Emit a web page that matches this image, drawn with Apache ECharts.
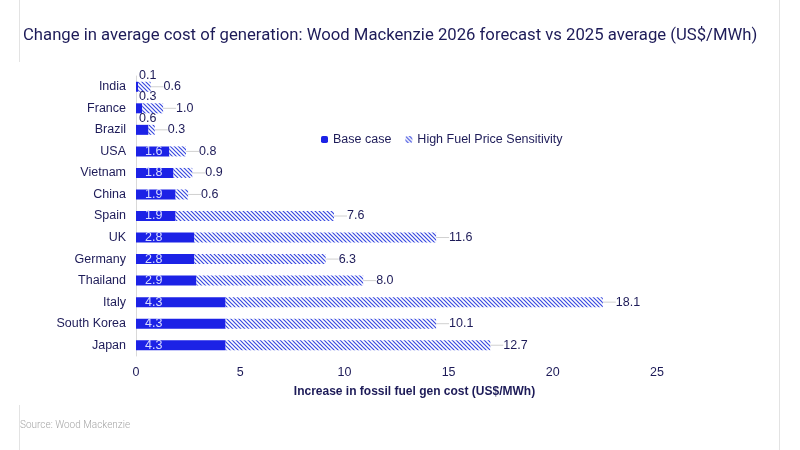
<!DOCTYPE html>
<html>
<head>
<meta charset="utf-8">
<script src="https://cdn.jsdelivr.net/npm/echarts@6/dist/echarts.min.js"></script>
<style>
  html, body { margin: 0; padding: 0; background: #fff; }
  #main { width: 800px; height: 450px; }
</style>
</head>
<body>
<div id="main"></div>
<script>
var countries = ['India', 'France', 'Brazil', 'USA', 'Vietnam', 'China', 'Spain', 'UK', 'Germany', 'Thailand', 'Italy', 'South Korea', 'Japan'];
var baseCase = [0.1, 0.3, 0.6, 1.6, 1.8, 1.9, 1.9, 2.8, 2.8, 2.9, 4.3, 4.3, 4.3];
var highFuel = [0.6, 1.0, 0.3, 0.8, 0.9, 0.6, 7.6, 11.6, 6.3, 8.0, 18.1, 10.1, 12.7];
var xTicks = [0, 5, 10, 15, 20, 25];

var navy = '#1d1b58';
var blue = '#1c22e6';

// hatch pattern for the sensitivity bars
var cv = document.createElement('canvas');
cv.width = 4; cv.height = 4;
var ctx = cv.getContext('2d');
ctx.fillStyle = '#fff';
ctx.fillRect(0, 0, 4, 4);
ctx.strokeStyle = '#3a4ae0';
ctx.lineWidth = 1.2;
ctx.beginPath();
ctx.moveTo(-1, -1); ctx.lineTo(5, 5);
ctx.moveTo(-1, 3); ctx.lineTo(1, 5);
ctx.moveTo(3, -1); ctx.lineTo(5, 1);
ctx.stroke();

var baseData = baseCase.map(function (v) {
  var item = { value: v };
  if (v < 1) {
    item.label = { position: [3, -13], color: navy };
  }
  return item;
});

var myChart = echarts.init(document.getElementById('main'));
var option = {
  backgroundColor: '#fff',
  animation: false,
  title: {
    text: 'Change in average cost of generation: Wood Mackenzie 2026 forecast vs 2025 average (US$/MWh)',
    left: 18,
    top: 22,
    textStyle: { fontFamily: 'Roboto', fontSize: 16.7, fontWeight: 'normal', color: navy }
  },
  legend: {
    left: 316,
    top: 128,
    itemWidth: 7,
    itemHeight: 7,
    itemGap: 14,
    textStyle: { fontFamily: 'Liberation Sans', fontSize: 12.5, color: navy },
    data: ['Base case', 'High Fuel Price Sensitivity']
  },
  grid: { left: 136, right: 143, top: 76, bottom: 94 },
  xAxis: {
    type: 'value',
    min: 0,
    max: 25,
    interval: 5,
    axisLine: { show: false },
    axisTick: { show: false },
    splitLine: { show: false },
    axisLabel: {
      margin: 10,
      fontFamily: 'Liberation Sans',
      fontSize: 12.5,
      color: navy,
      customValues: xTicks
    },
    name: 'Increase in fossil fuel gen cost (US$/MWh)',
    nameLocation: 'middle',
    nameGap: 30,
    nameTextStyle: { fontFamily: 'Liberation Sans', fontSize: 12, fontWeight: 'bold', color: navy, padding: [0, 0, 0, 36] }
  },
  yAxis: {
    type: 'category',
    inverse: true,
    data: countries,
    axisLine: { show: true, lineStyle: { color: '#d9d9d9' } },
    axisTick: { show: false },
    axisLabel: { margin: 10, fontFamily: 'Liberation Sans', fontSize: 12.5, color: navy }
  },
  series: [
    {
      name: 'Base case',
      type: 'bar',
      stack: 'total',
      barWidth: 10,
      itemStyle: { color: blue },
      label: {
        show: true,
        position: 'insideLeft',
        distance: 9,
        fontFamily: 'Liberation Sans',
        fontSize: 12.5,
        color: '#d8dcff',
        formatter: function (p) { return p.value.toFixed(1); }
      },
      data: baseData
    },
    {
      name: 'High Fuel Price Sensitivity',
      type: 'bar',
      stack: 'total',
      barWidth: 10,
      itemStyle: { color: { image: cv, repeat: 'repeat' } },
      label: {
        show: true,
        position: 'right',
        distance: 4,
        fontFamily: 'Liberation Sans',
        fontSize: 12.5,
        color: navy,
        formatter: function (p) { return p.value.toFixed(1); }
      },
      labelLayout: { dx: 9 },
      labelLine: { show: true, lineStyle: { color: '#d0d0d0', width: 1 } },
      data: highFuel
    }
  ],
  graphic: [
    { type: 'line', shape: { x1: 19.5, y1: 0, x2: 19.5, y2: 62 }, style: { stroke: '#e3e3e3', lineWidth: 1 } },
    { type: 'line', shape: { x1: 19.5, y1: 405, x2: 19.5, y2: 450 }, style: { stroke: '#e3e3e3', lineWidth: 1 } },
    { type: 'line', shape: { x1: 779.5, y1: 0, x2: 779.5, y2: 450 }, style: { stroke: '#e3e3e3', lineWidth: 1 } },
    {
      type: 'text', left: 20, top: 420,
      style: { text: 'Source: Wood Mackenzie', fontFamily: 'Roboto', fontSize: 10, fontWeight: 300, fill: '#a6a6a6' }
    }
  ]
};
myChart.setOption(option);
</script>
</body>
</html>
